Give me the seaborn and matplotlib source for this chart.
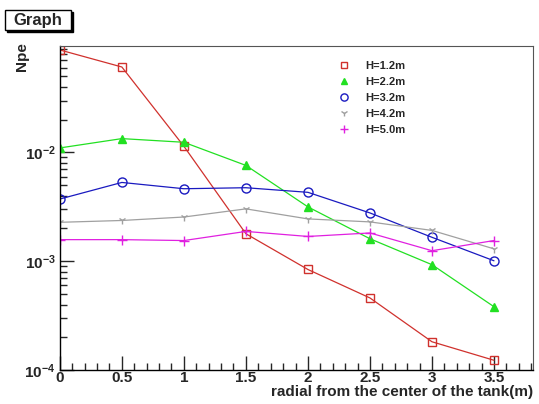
import numpy as np
import pandas as pd
import seaborn as sns
import matplotlib.pyplot as plt
from matplotlib.patches import Rectangle
from matplotlib.ticker import FixedLocator, MultipleLocator, LogLocator, NullFormatter

# radial positions (m)
radius = [0.0, 0.5, 1.0, 1.5, 2.0, 2.5, 3.0, 3.5]

# Npe per height
npe_h12 = [0.0875, 0.061, 0.0114, 0.00179, 0.00084, 0.00046, 0.000182, 0.000123]
npe_h22 = [0.0110, 0.0134, 0.0124, 0.0076, 0.00316, 0.00161, 0.00093, 0.000382]
npe_h32 = [0.00373, 0.0053, 0.00464, 0.00474, 0.0043, 0.00278, 0.00166, 0.00101]
npe_h42 = [0.00228, 0.00237, 0.00255, 0.00303, 0.00245, 0.0023, 0.00192, 0.0013]
npe_h50 = [0.00158, 0.00158, 0.00155, 0.00188, 0.00169, 0.00182, 0.00125, 0.00155]

labels = ["H=1.2m", "H=2.2m", "H=3.2m", "H=4.2m", "H=5.0m"]
series = [npe_h12, npe_h22, npe_h32, npe_h42, npe_h50]

colors = ["#d0312d", "#22e022", "#1a1ac0", "#a0a0a0", "#e020e0"]
markers = ["s", "^", "o", "1", "+"]
mfc = ["none", "#22e022", "none", "#a0a0a0", "#e020e0"]
msize = [6, 6, 6.5, 6, 7]

df = pd.concat(
    [pd.DataFrame({"r": radius, "npe": vals, "H": lab}) for lab, vals in zip(labels, series)],
    ignore_index=True,
)

sns.set_theme(style="ticks")
plt.rcParams["font.family"] = ["Liberation Sans", "DejaVu Sans"]
plt.rcParams["font.weight"] = "bold"
plt.rcParams["mathtext.fontset"] = "custom"
plt.rcParams["mathtext.bf"] = "Liberation Sans:bold"
plt.rcParams["mathtext.rm"] = "Liberation Sans:bold"

fig = plt.figure(figsize=(5.39, 4.04), dpi=100)
ax = fig.add_axes([0.111, 0.084, 0.878, 0.802])

for lab, c, m, fc, ms in zip(labels, colors, markers, mfc, msize):
    sub = df[df["H"] == lab]
    sns.lineplot(data=sub, x="r", y="npe", ax=ax, color=c, linewidth=0.9,
                 marker=m, markersize=ms, markerfacecolor=fc,
                 markeredgecolor=c, markeredgewidth=1.0, label=lab, legend=False)

ax.set_yscale("log")
ax.set_xlim(0, 3.815)
ax.set_ylim(1e-4, 0.095)

ax.xaxis.set_major_locator(MultipleLocator(0.5))
ax.xaxis.set_minor_locator(MultipleLocator(0.1))
ax.set_xticks([0, 0.5, 1, 1.5, 2, 2.5, 3, 3.5])
ax.set_xticklabels(["0", "0.5", "1", "1.5", "2", "2.5", "3", "3.5"])
ax.yaxis.set_major_locator(FixedLocator([1e-4, 1e-3, 1e-2]))
ax.set_yticklabels([r"$\mathbf{10^{-4}}$", r"$\mathbf{10^{-3}}$", r"$\mathbf{10^{-2}}$"])
ax.yaxis.set_minor_locator(LogLocator(base=10, subs=np.arange(2, 10)))
ax.yaxis.set_minor_formatter(NullFormatter())

ax.tick_params(axis="both", which="major", direction="in", length=10, width=1,
               labelsize=11, top=False, right=False)
ax.tick_params(axis="both", which="minor", direction="in", length=5, width=1,
               top=False, right=False)
ax.tick_params(axis="x", pad=1)
ax.tick_params(axis="y", pad=3)
for t in ax.get_xticklabels() + ax.get_yticklabels():
    t.set_fontweight("bold")

for s in ["left", "bottom"]:
    ax.spines[s].set_linewidth(1.0)
    ax.spines[s].set_color("black")
for s in ["top", "right"]:
    ax.spines[s].set_linewidth(0.8)
    ax.spines[s].set_color("#555555")

ax.set_xlabel("")
ax.set_ylabel("")
fig.text(533 / 539, 1 - 396 / 404, "radial from the center of the tank(m)", fontsize=11,
         fontweight="bold", ha="right", va="baseline")
fig.text(22 / 539, 1 - 42 / 404, "Npe", fontsize=11, fontweight="bold", rotation=90,
         ha="center", va="top")

leg = ax.legend(loc="upper left", bbox_to_anchor=(0.565, 0.985), frameon=False,
                fontsize=8, handlelength=1.2, handletextpad=1.3, labelspacing=0.55,
                markerscale=0.8)
for h in leg.get_lines():
    h.set_linestyle("none")
for t in leg.get_texts():
    t.set_fontweight("bold")

# title box with shadow, ROOT style
fig.patches.append(Rectangle((7 / 539, 1 - 32 / 404), 66 / 539, 20 / 404,
                             transform=fig.transFigure, facecolor="black",
                             edgecolor="black", zorder=1))
fig.patches.append(Rectangle((5 / 539, 1 - 30 / 404), 66 / 539, 20 / 404,
                             transform=fig.transFigure, facecolor="white",
                             edgecolor="black", linewidth=1, zorder=2))
fig.text(38 / 539, 1 - 20 / 404, "Graph", fontsize=12, fontweight="bold",
         ha="center", va="center", zorder=3)

fig.savefig("out.png", dpi=100)
